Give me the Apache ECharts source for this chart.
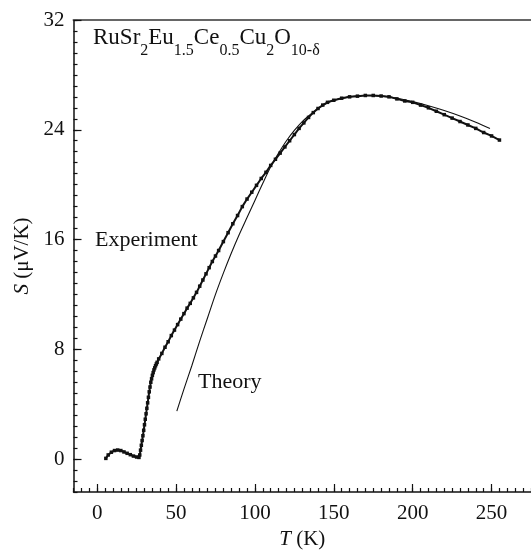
<!DOCTYPE html>
<html>
<head>
<meta charset="utf-8">
<script src="https://cdn.jsdelivr.net/npm/echarts@6/dist/echarts.min.js"></script>
<style>
  html, body { margin: 0; padding: 0; background: #fff; }
  #chart { width: 531px; height: 550px; }
</style>
</head>
<body>
<div id="chart"></div>
<script>
// measured data, S in uV/K against T in K
const expT = [5.5, 7, 9, 11, 13, 15, 17, 19, 21, 23, 25, 26.5,
  27, 27.5, 28, 28.5, 29, 29.5, 30, 30.5, 31, 31.5, 32, 32.5, 33, 33.5, 34, 34.5, 35, 35.5, 36, 36.5, 37, 37.5, 38, 39,
  41, 43, 45, 47, 49, 51, 53, 55, 57, 59, 61, 63, 65, 67, 69, 71, 73, 75, 77,
  80, 83, 86, 89, 92, 95, 98, 101, 104, 107, 110, 113, 116, 119, 122, 125, 128, 131, 134, 137, 140, 143, 146,
  150, 155, 160, 165, 170, 175, 180, 185, 190, 195, 200, 205, 210, 215, 220, 225, 230, 235, 240, 245, 250, 255]
const expS = [0.05, 0.3, 0.5, 0.62, 0.66, 0.62, 0.52, 0.42, 0.32, 0.22, 0.15, 0.12,
  0.3, 0.65, 1.0, 1.35, 1.7, 2.1, 2.5, 2.9, 3.3, 3.7, 4.1, 4.5, 4.9, 5.25, 5.6, 5.85, 6.1, 6.3, 6.5, 6.65, 6.8, 6.93, 7.05, 7.3,
  7.7, 8.15, 8.55, 9.0, 9.4, 9.8, 10.2, 10.6, 11.0, 11.35, 11.75, 12.15, 12.6, 13.05, 13.5, 13.95, 14.4, 14.8, 15.2,
  15.85, 16.5, 17.15, 17.75, 18.4, 18.95, 19.45, 19.95, 20.45, 20.9, 21.4, 21.85, 22.3, 22.75, 23.2, 23.65, 24.1, 24.5, 24.9, 25.25, 25.55, 25.8, 26.0,
  26.15, 26.3, 26.4, 26.45, 26.5, 26.5, 26.46, 26.4, 26.25, 26.1, 26.0, 25.8, 25.6, 25.35, 25.1, 24.85, 24.6, 24.35, 24.1, 23.8, 23.55, 23.25]

const theoT = [50.5, 55, 60, 65, 70, 75, 80, 85, 90, 95, 100, 105, 110, 115, 120, 125, 130, 135, 140, 145, 150,
  160, 170, 180, 190, 200, 210, 220, 230, 240, 249]
const theoS = [3.5, 5.1, 6.8, 8.6, 10.3, 12.0, 13.55, 15.0, 16.35, 17.6, 18.85, 20.1, 21.3, 22.3, 23.2, 23.95, 24.6, 25.1, 25.55, 25.9, 26.15,
  26.4, 26.5, 26.45, 26.3, 26.05, 25.75, 25.4, 25.0, 24.55, 24.1]

const xMajor = [0, 50, 100, 150, 200, 250]
const yMajor = [0, 8, 16, 24, 32]

const serif = '"Liberation Serif", "DejaVu Serif", serif'

let chart = echarts.init(document.getElementById('chart'), null, { renderer: 'canvas' })

function zip (a, b) {
  return a.map((v, i) => [v, b[i]])
}

chart.setOption({
  animation: false,
  grid: { left: 73.5, right: 0, top: 20, bottom: 58, containLabel: false, outerBoundsMode: 'none' },
  xAxis: [
    {
      type: 'value', position: 'bottom', min: -15, max: 275, interval: 5,
      axisLine: { onZero: false, lineStyle: { color: '#111', width: 1.5 } },
      axisTick: { inside: true, length: 4, lineStyle: { color: '#111', width: 1.2 } },
      axisLabel: { show: false },
      splitLine: { show: false }
    },
    {
      type: 'value', position: 'bottom', min: -15, max: 275,
      axisLine: { show: false, onZero: false },
      axisTick: { inside: true, length: 8, customValues: xMajor, lineStyle: { color: '#111', width: 1.2 } },
      axisLabel: { customValues: xMajor, margin: 11, color: '#111', fontFamily: serif, fontSize: 21 },
      splitLine: { show: false },
      name: '{it|T} (K)',
      nameLocation: 'middle',
      nameGap: 37,
      nameTextStyle: {
        color: '#111', fontFamily: serif, fontSize: 21,
        rich: { it: { fontStyle: 'italic', fontFamily: serif, fontSize: 21, color: '#111' } }
      }
    },
    {
      type: 'value', position: 'top', min: -15, max: 275,
      axisLine: { onZero: false, lineStyle: { color: '#666', width: 2 } },
      axisTick: { show: false },
      axisLabel: { show: false },
      splitLine: { show: false }
    }
  ],
  yAxis: [
    {
      type: 'value', position: 'left', min: -2.4, max: 32, interval: 0.8,
      axisLine: { onZero: false, lineStyle: { color: '#111', width: 1.5 } },
      axisTick: { inside: true, length: 4, lineStyle: { color: '#111', width: 1.2 } },
      axisLabel: { show: false },
      splitLine: { show: false }
    },
    {
      type: 'value', position: 'left', min: -2.4, max: 32,
      axisLine: { show: false, onZero: false },
      axisTick: { inside: true, length: 8, customValues: yMajor, lineStyle: { color: '#111', width: 1.2 } },
      axisLabel: { customValues: yMajor, margin: 9, color: '#111', fontFamily: serif, fontSize: 21 },
      splitLine: { show: false },
      name: '{it|S} (\u03bcV/K)',
      nameLocation: 'middle',
      nameGap: 40,
      nameRotate: 90,
      nameTextStyle: {
        color: '#111', fontFamily: serif, fontSize: 21,
        rich: { it: { fontStyle: 'italic', fontFamily: serif, fontSize: 21, color: '#111' } }
      }
    }
  ],
  series: [
    {
      name: 'Experiment',
      type: 'line',
      xAxisIndex: 0,
      yAxisIndex: 0,
      data: zip(expT, expS),
      symbol: 'rect',
      symbolSize: 3.5,
      showAllSymbol: true,
      itemStyle: { color: '#111' },
      lineStyle: { color: '#111', width: 2 },
      z: 3
    },
    {
      name: 'Theory',
      type: 'line',
      xAxisIndex: 0,
      yAxisIndex: 0,
      data: zip(theoT, theoS),
      smooth: 0.3,
      showSymbol: false,
      lineStyle: { color: '#111', width: 1.1 },
      z: 2
    }
  ],
  graphic: [
    {
      type: 'text', left: 93, top: 26,
      style: {
        text: '{m|RuSr}{s|2}{m|Eu}{s|1.5}{m|Ce}{s|0.5}{m|Cu}{s|2}{m|O}{s|10-\u03b4}',
        rich: {
          m: { fontFamily: serif, fontSize: 23, lineHeight: 33, verticalAlign: 'top', fill: '#111' },
          s: { fontFamily: serif, fontSize: 16, verticalAlign: 'bottom', fill: '#111' }
        }
      }
    },
    {
      type: 'text', left: 95, top: 229,
      style: { text: 'Experiment', fontFamily: serif, fontSize: 22, fill: '#111' }
    },
    {
      type: 'text', left: 198, top: 371,
      style: { text: 'Theory', fontFamily: serif, fontSize: 22, fill: '#111' }
    }
  ]
})
</script>
</body>
</html>
